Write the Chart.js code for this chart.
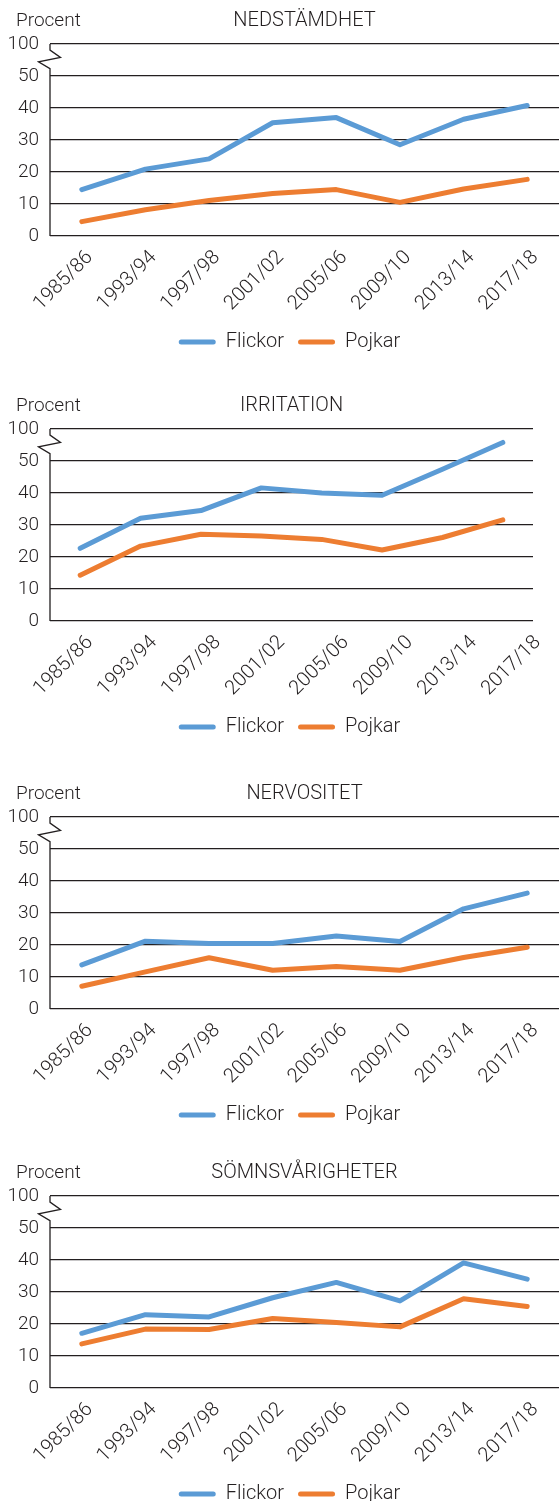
<!DOCTYPE html>
<html>
<head>
<meta charset="utf-8">
<script src="https://cdn.jsdelivr.net/npm/chart.js@4"></script>
<style>
  body { margin: 0; background: #fff; width: 559px; height: 1501px; overflow: hidden; position: relative; }
  .panel { position: absolute; left: 0; width: 559px; height: 375px; }
</style>
</head>
<body>
<div class="panel" style="top:0px"><canvas id="c1" width="559" height="375"></canvas></div>
<div class="panel" style="top:385px"><canvas id="c2" width="559" height="375"></canvas></div>
<div class="panel" style="top:773px"><canvas id="c3" width="559" height="375"></canvas></div>
<div class="panel" style="top:1152px"><canvas id="c4" width="559" height="375"></canvas></div>
<script>
// --- DATA ---
const periods = ['1985/86', '1993/94', '1997/98', '2001/02', '2005/06', '2009/10', '2013/14', '2017/18'];
const seriesNames = ['Flickor', 'Pojkar'];
const yTicks = [0, 10, 20, 30, 40, 50, 60];   // 60 is shown as "100" (axis break)

const nedFlickor = [14.5, 20.9, 24.1, 35.4, 37.0, 28.5, 36.5, 40.8];
const nedPojkar  = [4.5, 8.2, 11.1, 13.3, 14.5, 10.5, 14.7, 17.7];

const irrFlickor = [22.7, 32.1, 34.5, 41.6, 40.0, 39.3, 47.4, 55.8];
const irrPojkar  = [14.3, 23.4, 27.1, 26.6, 25.5, 22.2, 26.1, 31.6];

const nerFlickor = [13.8, 21.2, 20.5, 20.5, 22.8, 21.1, 31.3, 36.2];
const nerPojkar  = [7.1, 11.6, 16.0, 12.1, 13.3, 12.1, 16.1, 19.3];

const somFlickor = [17.1, 22.9, 22.2, 28.2, 33.0, 27.2, 39.1, 34.0];
const somPojkar  = [13.8, 18.4, 18.3, 21.7, 20.5, 19.1, 27.9, 25.5];

// --- STYLE ---
const INK = '#231f20';
const BLUE = '#5b9bd5';
const ORANGE = '#ed7d31';
const FONT = { family: 'Roboto', size: 19, weight: 300 };

Chart.defaults.font.family = FONT.family;
Chart.defaults.font.size = FONT.size;
Chart.defaults.font.weight = FONT.weight;
Chart.defaults.color = INK;

// title, "Procent", broken y axis line, legend nudged right
const panelDecor = {
    id: 'panelDecor',
    afterLayout(chart) {
        // the legend sits centred a little right of the canvas centre
        chart.legend.left += 20;
    },
    afterDraw(chart, args, opts) {
        const { ctx, chartArea, scales } = chart;
        const y = scales.y;
        ctx.save();
        ctx.fillStyle = INK;
        ctx.textBaseline = 'middle';
        ctx.font = `${FONT.weight} ${FONT.size}px ${FONT.family}`;
        ctx.textAlign = 'left';
        ctx.fillText('Procent', 16, 21);
        ctx.font = `${FONT.weight} 20px ${FONT.family}`;
        ctx.textAlign = 'center';
        ctx.fillText(opts.title, (chartArea.left + chartArea.right) / 2, 21);

        const x = chartArea.left;
        ctx.strokeStyle = INK;
        ctx.lineWidth = 1.3;
        ctx.beginPath();
        ctx.moveTo(x, y.getPixelForValue(60));
        ctx.lineTo(x, y.getPixelForValue(58.1));
        ctx.lineTo(x + 10.5, y.getPixelForValue(55.8));
        ctx.lineTo(x - 11.5, y.getPixelForValue(54.4));
        ctx.lineTo(x, y.getPixelForValue(52.3));
        ctx.lineTo(x, y.getPixelForValue(0));
        ctx.stroke();
        ctx.restore();
    }
};

function makePanel(id, title, girls, boys, opt = {}) {
    const rightGap = opt.rightGap || 0;
    const labelMax = opt.labelMax != null ? opt.labelMax : periods.length - 0.5;
    return new Chart(document.getElementById(id), {
        type: 'line',
        data: {
            labels: periods,
            datasets: [girls, boys].map((vals, i) => ({
                label: seriesNames[i],
                data: vals,
                xAxisID: 'xd',
                yAxisID: 'y',
                borderColor: i === 0 ? BLUE : ORANGE,
                backgroundColor: i === 0 ? BLUE : ORANGE,
                borderWidth: 5,
                borderCapStyle: 'round',
                borderJoinStyle: 'round',
                pointRadius: 0,
                tension: 0
            }))
        },
        options: {
            responsive: false,
            animation: false,
            layout: { padding: { top: 44, right: 0, bottom: 13, left: 0 } },
            plugins: {
                legend: {
                    position: 'bottom',
                    labels: {
                        boxWidth: 37,
                        boxHeight: 5,
                        padding: 14,
                        font: { size: 20 },
                        useBorderRadius: true,
                        borderRadius: 2.5,
                        generateLabels: chart => chart.data.datasets.map((d, i) => ({
                            text: d.label,
                            fillStyle: d.borderColor,
                            strokeStyle: d.borderColor,
                            lineWidth: 0,
                            borderRadius: 2.5,
                            datasetIndex: i,
                            fontColor: INK
                        }))
                    }
                },
                tooltip: { enabled: false },
                panelDecor: { title }
            },
            scales: {
                xd: {
                    type: 'category',
                    offset: true,
                    display: false
                },
                x: {
                    type: 'linear',
                    position: 'bottom',
                    min: -0.5,
                    max: labelMax,
                    afterBuildTicks: s => { s.ticks = periods.map((p, i) => ({ value: i })); },
                    afterFit: s => { s.height = 82; },
                    grid: { display: false },
                    border: { display: false },
                    ticks: {
                        minRotation: 45,
                        maxRotation: 45,
                        padding: 2,
                        labelOffset: 8,
                        font: { size: 20 },
                        callback: v => periods[v]
                    }
                },
                y: {
                    type: 'linear',
                    min: 0,
                    max: 60,
                    afterBuildTicks: s => { s.ticks = yTicks.map(v => ({ value: v })); },
                    afterFit: s => { s.width = 50; },
                    grid: { color: INK, lineWidth: 1.3, drawTicks: false },
                    border: { display: false },
                    ticks: {
                        padding: 11,
                        callback: v => (v === 60 ? '100' : v)
                    }
                },
                // empty right-hand axis, only used to leave a gap after the plot
                yr: {
                    type: 'linear',
                    position: 'right',
                    display: rightGap > 0,
                    min: 0,
                    max: 1,
                    afterFit: s => { s.width = rightGap; },
                    grid: { display: false, drawOnChartArea: false },
                    border: { display: false },
                    ticks: { display: false }
                }
            }
        },
        plugins: [panelDecor]
    });
}

makePanel('c1', 'NEDSTÄMDHET', nedFlickor, nedPojkar);
makePanel('c2', 'IRRITATION', irrFlickor, irrPojkar, { rightGap: 26, labelMax: 7.05 });
makePanel('c3', 'NERVOSITET', nerFlickor, nerPojkar);
makePanel('c4', 'SÖMNSVÅRIGHETER', somFlickor, somPojkar);
</script>
</body>
</html>
